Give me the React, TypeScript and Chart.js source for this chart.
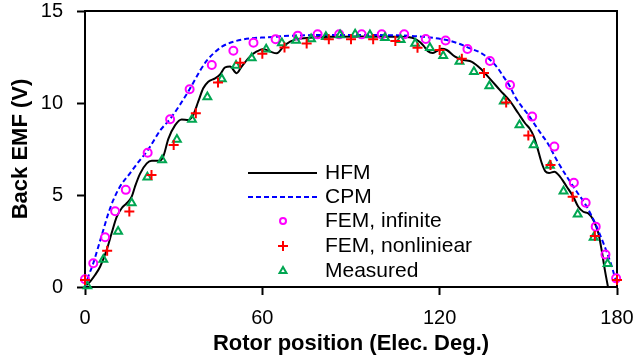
import React, { useEffect, useRef } from 'react';
import { Chart, registerables } from 'chart.js';
import { drawPoint } from 'chart.js/helpers';

Chart.register(...registerables);

// ---------- data ----------
const seriesLabels = ['HFM', 'CPM', 'FEM, infinite', 'FEM, nonliniear', 'Measured'];
const xTicks = [0, 60, 120, 180];
const yTicks = [0, 5, 10, 15];

const hfmX = [0.5, 2, 3.4, 5.1, 7.3, 9.0, 10.7, 12.4, 14.1, 15.8, 16.9, 18.6, 20.9, 22.6, 25.2, 26.5, 28.2, 30.5, 32.7, 35, 36.6, 38.3, 40, 41.7, 44, 45.7, 47.4, 49.1, 51.3, 53, 55.8, 58.1, 60.3, 62.6, 64.9, 67.1, 69.4, 71.6, 76, 83, 95, 106.6, 111.5, 113.4, 114.6, 116, 117.6, 119, 120.6, 122.4, 125.2, 128, 130.9, 133.7, 137.1, 140.4, 143.8, 146.6, 148.9, 150.5, 151.8, 153, 154.5, 155.7, 157, 158.8, 160.7, 163, 165.2, 166.9, 168.6, 170.3, 172, 173.7, 174.8, 175.9, 176.9];
const hfmY = [0.1, 0.35, 0.65, 1.1, 2.0, 2.92, 3.8, 4.28, 4.55, 4.91, 5.45, 6.15, 6.72, 6.86, 6.86, 7.1, 8.05, 8.8, 9.11, 9.08, 9.35, 10.07, 10.8, 11.16, 11.34, 11.55, 11.94, 11.98, 11.62, 11.98, 12.52, 12.8, 12.94, 12.8, 12.7, 13.06, 13.33, 13.47, 13.55, 13.6, 13.62, 13.6, 13.5, 13.3, 13.1, 12.82, 12.72, 12.82, 12.95, 12.88, 12.52, 12.34, 12.24, 11.89, 11.3, 10.7, 10.1, 9.44, 8.9, 8.6, 8.2, 7.6, 6.75, 6.3, 6.2, 6.26, 6.0, 5.45, 4.91, 4.36, 4.09, 4.0, 3.64, 2.92, 2.01, 0.92, 0.05];

const cpmX = [0, 1.1, 2.8, 4.5, 6.2, 7.9, 9.6, 11.8, 15.2, 18.6, 20.9, 22, 25.4, 28.8, 32.1, 35.4, 38.9, 41.2, 43.4, 46.3, 50.2, 55.8, 61.5, 71.6, 90, 110, 114.5, 122.4, 126.3, 130.3, 134.2, 137.1, 139.3, 141.6, 143.8, 145.5, 147.8, 150, 152.3, 154.6, 156.8, 159.6, 163, 166.4, 169.8, 172.6, 175.4, 177.7, 180];
const cpmY = [0, 0.56, 1.29, 2.19, 3.1, 4.0, 4.73, 5.45, 6.18, 6.9, 7.35, 7.62, 8.5, 9.13, 9.9, 10.75, 11.75, 12.3, 12.68, 13.06, 13.33, 13.51, 13.57, 13.67, 13.7, 13.65, 13.6, 13.42, 13.24, 12.97, 12.7, 12.34, 11.97, 11.43, 10.89, 10.34, 9.8, 9.35, 8.8, 8.26, 7.75, 6.9, 6.0, 5.18, 4.36, 3.46, 2.38, 1.38, 0.15];

const femInfX = [0, 2.8, 6.8, 10.2, 13.8, 21.2, 28.8, 35.4, 42.9, 50.2, 57, 64.5, 72, 78.7, 86, 93.6, 100.4, 108, 115.3, 122, 129.4, 137, 143.8, 151.3, 158.8, 165.4, 169.4, 172.8, 176.1, 179.7];
const femInfY = [0.42, 1.29, 2.7, 4.12, 5.28, 7.3, 9.12, 10.75, 12.07, 12.84, 13.27, 13.47, 13.66, 13.73, 13.73, 13.73, 13.73, 13.73, 13.48, 13.4, 12.93, 12.28, 10.98, 9.26, 7.63, 5.67, 4.58, 3.28, 1.76, 0.47];

const femNonX = [0, 7.5, 15, 22.5, 30, 37.5, 45, 52.5, 60, 67.5, 75, 82.5, 90, 97.5, 105, 112.5, 120, 127.5, 135, 142.5, 150, 157.5, 165, 172.5, 180];
const femNonY = [0.38, 1.97, 4.1, 6.09, 7.72, 9.44, 11.12, 12.19, 12.68, 13.02, 13.24, 13.46, 13.46, 13.46, 13.37, 13.0, 12.88, 12.4, 11.63, 10.03, 8.24, 6.63, 4.91, 2.77, 0.38];

const measX = [0.8, 6.2, 11.2, 15.8, 21.1, 26.1, 31.1, 36.2, 41.4, 46.3, 51.1, 56.4, 61.3, 66.6, 71.4, 76.5, 81.5, 86.3, 91.4, 96.4, 101.5, 106.8, 111.7, 116.7, 121.2, 126.7, 131.6, 136.8, 141.7, 147, 151.8, 157.3, 161.9, 166.7, 172.1, 176.8];
const measY = [0.05, 1.5, 3.02, 4.57, 5.96, 6.9, 8.02, 9.1, 10.33, 11.3, 12.04, 12.45, 12.92, 13.26, 13.4, 13.48, 13.6, 13.7, 13.73, 13.7, 13.55, 13.44, 13.24, 13.0, 12.57, 12.25, 11.7, 10.92, 10.09, 8.8, 7.72, 6.6, 5.2, 3.95, 2.69, 1.26];

const zip = (xs: number[], ys: number[]) => xs.map((x, i) => ({ x, y: ys[i] }));

const FONT = '"Liberation Sans", Arial, Helvetica, sans-serif';

// ---------- plugins ----------
const framePlugin = {
  id: 'frame',
  beforeDatasetsDraw(chart: any) {
    const { ctx, chartArea } = chart;
    ctx.save();
    ctx.strokeStyle = '#000';
    ctx.lineWidth = 2;
    ctx.strokeRect(chartArea.left, chartArea.top, chartArea.right - chartArea.left, chartArea.bottom - chartArea.top);
    ctx.restore();
  },
};

const legendPlugin = {
  id: 'insideLegend',
  afterDraw(chart: any) {
    const { ctx } = chart;
    const rows = [173, 197, 221, 246, 271];
    ctx.save();
    chart.data.datasets.forEach((ds: any, i: number) => {
      const y = rows[i];
      ctx.strokeStyle = ds.borderColor;
      ctx.lineWidth = ds.borderWidth;
      if (ds.showLine) {
        ctx.beginPath();
        ctx.setLineDash(ds.borderDash || []);
        ctx.moveTo(248, y);
        ctx.lineTo(317, y);
        ctx.stroke();
        ctx.setLineDash([]);
      } else {
        ctx.fillStyle = 'rgba(0,0,0,0)';
        drawPoint(ctx, { pointStyle: ds.pointStyle, radius: ds.legendRadius, borderWidth: ds.borderWidth, rotation: 0 } as any, 283, y);
      }
      ctx.fillStyle = '#000';
      ctx.font = `21px ${FONT}`;
      ctx.textAlign = 'left';
      ctx.textBaseline = 'middle';
      ctx.fillText(ds.label, 325, y);
    });
    ctx.restore();
  },
};

const noPad = (s: any) => {
  s.paddingTop = 0;
  s.paddingBottom = 0;
  s.paddingLeft = 0;
  s.paddingRight = 0;
};

export default function App() {
  const ref = useRef<HTMLCanvasElement>(null);

  useEffect(() => {
    document.body.style.margin = '0';
    if (!ref.current) return;
    const chart = new Chart(ref.current, {
      type: 'scatter',
      data: {
        datasets: [
          {
            label: seriesLabels[0],
            data: zip(hfmX, hfmY),
            showLine: true,
            borderColor: '#000000',
            borderWidth: 2,
            pointRadius: 0,
            cubicInterpolationMode: 'monotone',
            order: 5,
          } as any,
          {
            label: seriesLabels[1],
            data: zip(cpmX, cpmY),
            showLine: true,
            borderColor: '#0000FF',
            borderWidth: 2,
            borderDash: [5, 3],
            pointRadius: 0,
            cubicInterpolationMode: 'monotone',
            order: 4,
          } as any,
          {
            label: seriesLabels[2],
            data: zip(femInfX, femInfY),
            showLine: false,
            pointStyle: 'circle',
            pointRadius: 4,
            legendRadius: 3,
            borderColor: '#FF00FF',
            backgroundColor: 'rgba(0,0,0,0)',
            borderWidth: 2,
            clip: false,
            order: 3,
          } as any,
          {
            label: seriesLabels[3],
            data: zip(femNonX, femNonY),
            showLine: false,
            pointStyle: 'cross',
            pointRadius: 5,
            legendRadius: 5,
            borderColor: '#FF0000',
            backgroundColor: 'rgba(0,0,0,0)',
            borderWidth: 2,
            clip: false,
            order: 1,
          } as any,
          {
            label: seriesLabels[4],
            data: zip(measX, measY),
            showLine: false,
            pointStyle: 'triangle',
            pointRadius: 4.5,
            legendRadius: 4,
            borderColor: '#00A651',
            backgroundColor: 'rgba(0,0,0,0)',
            borderWidth: 2,
            clip: false,
            order: 2,
          } as any,
        ],
      },
      options: {
        animation: false,
        responsive: false,
        devicePixelRatio: 1,
        layout: { padding: { top: 11, right: 19, left: 0, bottom: 0 } },
        plugins: { legend: { display: false }, tooltip: { enabled: false } },
        scales: {
          x: {
            type: 'linear',
            min: 0,
            max: 180,
            afterBuildTicks: (s: any) => { s.ticks = xTicks.map((v) => ({ value: v })); },
            afterFit: (s: any) => { s.height = 77; noPad(s); },
            border: { display: true, color: '#000', width: 2 },
            grid: { drawOnChartArea: false, drawTicks: true, tickLength: 8, tickWidth: 2, tickColor: '#000' },
            ticks: { color: '#000', padding: 13, maxRotation: 0, autoSkip: false, font: { family: FONT, size: 20, lineHeight: 1 } },
            title: {
              display: true,
              text: 'Rotor position (Elec. Deg.)',
              color: '#000',
              font: { family: FONT, size: 22, weight: 'bold', lineHeight: 1 },
              padding: { top: 0, bottom: 9 },
            },
          },
          y: {
            type: 'linear',
            min: 0,
            max: 15,
            afterBuildTicks: (s: any) => { s.ticks = yTicks.map((v) => ({ value: v })); },
            afterFit: (s: any) => { s.width = 85; noPad(s); },
            border: { display: true, color: '#000', width: 2 },
            grid: { drawOnChartArea: false, drawTicks: true, tickLength: 8, tickWidth: 2, tickColor: '#000' },
            ticks: { color: '#000', padding: 14, autoSkip: false, font: { family: FONT, size: 20, lineHeight: 1 } },
            title: {
              display: true,
              text: 'Back EMF (V)',
              color: '#000',
              font: { family: FONT, size: 22, weight: 'bold', lineHeight: 1 },
              padding: { top: 10, bottom: 0 },
            },
          },
        },
      } as any,
      plugins: [framePlugin, legendPlugin],
    });
    return () => chart.destroy();
  }, []);

  return (
    <div style={{ width: 636, height: 364, background: '#fff' }}>
      <canvas ref={ref} width={636} height={364} style={{ display: 'block' }} />
    </div>
  );
}
